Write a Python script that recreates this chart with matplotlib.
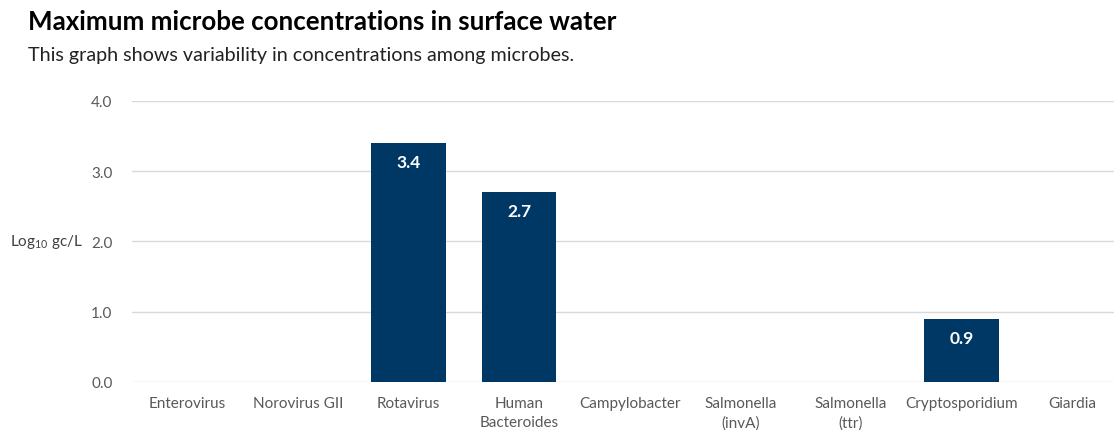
import matplotlib.pyplot as plt

# Maximum concentrations (log10 gc/L); None = not detected
microbes = ['Enterovirus', 'Norovirus GII', 'Rotavirus', 'Human\nBacteroides',
            'Campylobacter', 'Salmonella\n(invA)', 'Salmonella\n(ttr)',
            'Cryptosporidium', 'Giardia']
max_conc = [None, None, 3.4, 2.7, None, None, None, 0.9, None]
y_ticks = [0.0, 1.0, 2.0, 3.0, 4.0]

bar_color = '#003865'
text_gray = '#595959'

plt.rcParams['font.family'] = ['Lato', 'DejaVu Sans']
plt.rcParams['mathtext.fontset'] = 'custom'
plt.rcParams['mathtext.rm'] = 'Lato'
plt.rcParams['mathtext.default'] = 'rm'

fig = plt.figure(figsize=(11.14, 4.31), dpi=100)
# plot area runs slightly past the right edge of the canvas
ax = fig.add_axes([0.1185, 0.1114, 0.8935, 0.6520])

xs = list(range(len(microbes)))
heights = [v if v is not None else 0 for v in max_conc]
bars = ax.bar(xs, heights, width=0.67, color=bar_color, zorder=3)

for b, v in zip(bars, max_conc):
    if v is None:
        continue
    ax.annotate(f'{v:.1f}', (b.get_x() + b.get_width() / 2, v),
                xytext=(0, -19), textcoords='offset pixels',
                ha='center', va='center', color='white', fontsize=12.5,
                fontweight='bold', zorder=4)

ax.set_xlim(-0.5, len(microbes) - 0.5)
ax.set_ylim(0, 4)
ax.set_yticks(y_ticks)
ax.set_yticklabels([f'{t:.1f}' for t in y_ticks])
ax.set_xticks(xs)
ax.set_xticklabels(microbes, linespacing=1.45)
ax.grid(axis='y', color='#d9d9d9', linewidth=1, zorder=0)
for s in ax.spines.values():
    s.set_visible(False)
ax.tick_params(axis='both', length=0, colors=text_gray, labelsize=11)
ax.tick_params(axis='y', pad=14)
ax.tick_params(axis='x', pad=10)

fig.text(0.009, 0.4385, 'Log$_{10}$ gc/L', ha='left', va='center',
         color='#404040', fontsize=11)

fig.text(0.025, 0.949, 'Maximum microbe concentrations in surface water',
         ha='left', va='center', fontsize=18.6, fontweight='bold', color='black')
fig.text(0.025, 0.872, 'This graph shows variability in concentrations among microbes.',
         ha='left', va='center', fontsize=14.2, color='#222222')

fig.savefig('out.png', dpi=100)
